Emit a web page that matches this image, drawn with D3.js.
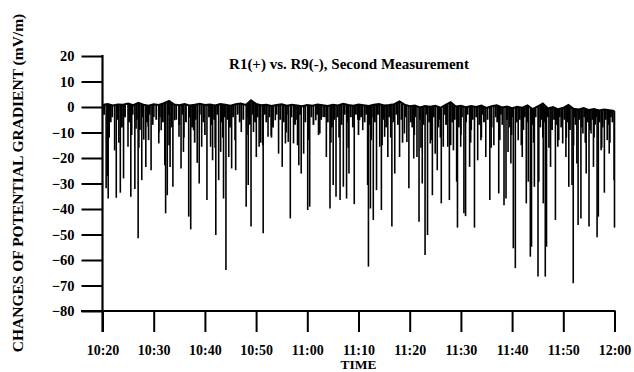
<!DOCTYPE html>
<html>
<head>
<meta charset="utf-8">
<script src="https://cdn.jsdelivr.net/npm/d3@7"></script>
<style>
html,body{margin:0;padding:0;background:#fff;}
svg{display:block;}
text{font-family:"Liberation Serif","Times New Roman",serif;font-weight:bold;fill:#000;}
</style>
</head>
<body>
<svg id="chart" width="634" height="372"></svg>
<script>
// ---- data (minutes after 10:20, value in mV/m) ----
const title = "R1(+) vs. R9(-), Second Measurement";
const yLabel = "CHANGES OF POTENTIAL GRADIENT (mV/m)";
const xLabel = "TIME";
const xTickLabels = ["10:20","10:30","10:40","10:50","11:00","11:10","11:20","11:30","11:40","11:50","12:00"];
const yTicks = [20,10,0,-10,-20,-30,-40,-50,-60,-70,-80];

// background level, one value per minute
const baseValues = [0.8,1.2,0.6,1.0,0.9,1.4,0.7,1.6,0.9,0.5,1.1,0.8,1.5,2.4,1.0,0.7,1.2,0.6,0.9,1.3,
  0.8,1.0,0.6,1.2,0.9,0.5,1.1,1.4,0.8,2.6,1.2,0.7,0.9,0.4,0.8,1.1,0.5,0.9,0.6,0.3,
  0.8,0.5,1.0,0.7,0.4,0.9,0.6,1.3,0.8,0.5,1.0,0.7,0.4,0.9,1.2,0.6,0.8,1.1,2.2,0.9,
  0.3,0.6,-0.2,0.4,0.1,0.5,-0.3,0.8,1.9,0.2,0.5,-0.1,0.4,0.0,0.6,-0.4,0.3,0.7,-0.2,0.2,
  -0.5,0.1,-0.3,0.6,-0.8,0.2,1.4,-0.6,0.0,-0.9,-0.3,0.8,-0.7,-1.0,-0.4,-1.2,-0.8,-1.4,-1.0,-1.3,-1.6];

// large downward spikes [minute, value]
const spikes = [[0.71,-31.9],[0.95,-27.1],[1.11,-35.9],[2.37,-17],[2.69,-35.6],[3.48,-33.6],[4.11,-28],
  [4.98,-15.6],[5.53,-35.2],[6.32,-32.2],[6.56,-8.5],[6.96,-51.5],[7.67,-28.7],[8.06,-12.8],[8.46,-23.5],
  [8.93,-7.8],[9.49,-24.8],[10.04,-3.9],[10.99,-14.3],[11.46,-9.1],[12.17,-22.8],[12.33,-41.7],[12.65,-34.6],
  [13.2,-23.5],[13.75,-31.3],[14.07,-5.2],[14.94,-11.7],[15.34,-24.1],[15.81,-17.6],[16.84,-43],[17.23,-48],
  [17.79,-9.1],[18.5,-21.9],[18.89,-30],[19.37,-15.6],[20.4,-36.5],[21.11,-15.6],[21.5,-20.9],[22.13,-50.2],
  [22.69,-28.7],[23.08,-17.6],[23.64,-35.9],[24.11,-63.9],[24.66,-19.6],[25.22,-24.1],[26.01,-24.8],
  [27.11,-9.8],[28.06,-39.1],[28.46,-30.6],[29.01,-46.9],[29.49,-9.8],[30.04,-19.6],[30.59,-15.6],
  [31.3,-15],[31.38,-49.5],[32.33,-11.7],[32.96,-11.1],[33.75,-5.2],[34.39,-18.3],[35.1,-23.5],[35.73,-14.3],
  [36.28,-13.7],[36.68,-43.7],[37.31,-14.3],[38.34,-22.8],[38.81,-26.1],[39.29,-18.3],[40.08,-40.4],
  [40.47,-39.1],[41.66,-5.2],[42.45,-10.4],[43.08,-3.9],[43.72,-19.6],[44.43,-39.8],[45.06,-30.6],
  [45.61,-35.2],[46.4,-36.5],[47.04,-31.3],[47.67,-35.9],[48.14,-26.1],[49.17,-38.1],[50.2,-5.2],[50.83,-9.1],
  [51.78,-30.6],[51.94,-62.6],[52.33,-39.8],[52.89,-44.3],[53.52,-32.6],[54.15,-15.6],[54.47,-40.4],
  [55.1,-11.7],[55.73,-19.6],[56.52,-46.9],[57.08,-26.1],[58.02,-19.6],[58.97,-10.4],[59.45,-13.7],
  [59.84,-31.9],[60.79,-20.2],[61.42,-19.6],[61.82,-45],[62.45,-30],[63.0,-58],[63.48,-50.2],[64.03,-14.3],
  [64.43,-34.6],[64.98,-18.3],[65.38,-24.8],[66.17,-37.8],[66.56,-15.6],[67.43,-15.6],[67.75,-36.5],
  [68.54,-17],[69.17,-29.3],[69.33,-47.3],[69.96,-15.6],[70.59,-41.7],[70.91,-42.8],[71.7,-23.5],
  [72.65,-47.3],[73.28,-20.9],[73.91,-13],[74.86,-19.6],[75.65,-36.5],[76.44,-15],[77.39,-33.9],
  [78.42,-38.5],[78.81,-35.9],[79.21,-17.6],[79.76,-22.2],[80.24,-55.4],[80.63,-63.2],[81.19,-13],
  [81.98,-19.6],[82.77,-37.8],[83.16,-29.3],[83.56,-58.7],[83.79,-54.8],[84.35,-31.3],[85.06,-66.5],
  [85.22,-29.3],[86.09,-37.8],[86.48,-66.5],[86.72,-54.8],[87.51,-23.5],[88.46,-44.3],[88.93,-15.6],
  [89.88,-14.3],[90.51,-19.6],[91.07,-31.3],[91.7,-30.6],[91.94,-69.1],[92.65,-22.2],[92.89,-46.3],
  [93.44,-43.7],[93.83,-10.4],[94.47,-26.1],[95.02,-46.9],[95.42,-10.4],[95.89,-23.5],[96.6,-51.1],
  [96.84,-43],[97.39,-17],[98.02,-33.6],[98.58,-13],[98.97,-18.3],[99.92,-28.7],[100,-47.3]];

// small dips [minute, value]
const dips = [[0.3,-3],[1.6,-6],[1.9,-4],[3.0,-5],[3.8,-8],[4.4,-4],[5.2,-6],[5.9,-3],[6.7,-5],[7.3,-9],
  [7.9,-4],[8.7,-6],[9.2,-3],[9.8,-7],[10.5,-5],[11.2,-4],[11.8,-6],[12.9,-3],[13.5,-8],[14.4,-5],[15.0,-7],
  [15.6,-3],[16.3,-6],[17.0,-4],[17.5,-8],[18.2,-5],[19.0,-3],[19.7,-6],[20.8,-4],[21.3,-7],[21.8,-5],
  [22.4,-3],[23.3,-6],[23.9,-4],[24.4,-5],[24.9,-8],[25.5,-4],[26.4,-3],[26.8,-6],[27.5,-5],[28.3,-4],
  [28.8,-7],[29.3,-3],[29.8,-6],[30.3,-4],[30.8,-5],[31.7,-3],[32.0,-6],[32.6,-4],[33.3,-8],[34.0,-3],
  [34.7,-5],[35.4,-6],[36.0,-3],[36.9,-4],[37.6,-7],[38.0,-5],[38.6,-3],[39.6,-6],[40.8,-4],[41.2,-7],
  [41.9,-3],[42.7,-5],[43.4,-4],[44.0,-6],[44.8,-8],[45.3,-5],[45.9,-4],[46.7,-7],[47.3,-3],[47.9,-6],
  [48.5,-4],[48.9,-8],[49.5,-3],[49.9,-5],[50.5,-4],[51.2,-6],[51.5,-3],[52.1,-7],[52.6,-4],[53.2,-6],
  [53.8,-3],[54.8,-5],[55.4,-8],[56.0,-4],[56.8,-6],[57.4,-3],[57.7,-7],[58.4,-5],[59.2,-4],[60.2,-6],
  [60.5,-8],[61.1,-4],[62.0,-5],[62.7,-7],[63.3,-3],[63.8,-6],[64.7,-4],[65.6,-8],[65.9,-5],[66.9,-3],
  [67.1,-7],[67.9,-4],[68.3,-6],[68.8,-5],[69.6,-8],[70.2,-4],[71.0,-6],[71.3,-3],[72.0,-9],[72.3,-5],
  [73.0,-4],[73.6,-7],[74.2,-3],[74.5,-6],[75.2,-5],[76.0,-8],[76.8,-4],[77.1,-6],[77.8,-3],[78.1,-7],
  [79.0,-5],[79.5,-8],[80.0,-4],[80.9,-6],[81.5,-5],[82.2,-9],[82.5,-4],[83.0,-6],[84.0,-7],[84.6,-4],
  [85.5,-8],[85.8,-5],[86.3,-6],[87.0,-4],[87.8,-9],[88.2,-5],[88.7,-7],[89.3,-4],[89.6,-8],[90.2,-5],
  [90.8,-6],[91.3,-9],[92.2,-4],[92.4,-7],[93.1,-5],[93.6,-8],[94.1,-4],[94.8,-6],[95.2,-9],[95.7,-5],
  [96.2,-7],[96.4,-4],[97.1,-6],[97.7,-8],[98.3,-5],[98.8,-7],[99.3,-4],[99.6,-6]];

// medium dips [minute, value]
const midDips = [[1.3,-12],[3.2,-14],[5.7,-11],[7.1,-16],[9.0,-13],[11.0,-10],[13.0,-15],[15.9,-12],
  [18.0,-14],[20.0,-11],[22.0,-16],[23.5,-12],[25.9,-13],[28.2,-11],[30.9,-14],[33.0,-12],[35.9,-10],
  [38.1,-15],[40.2,-13],[42.2,-11],[44.6,-14],[46.2,-12],[48.0,-16],[50.0,-11],[52.5,-13],[54.6,-15],
  [56.3,-12],[58.6,-14],[60.9,-11],[62.2,-16],[64.2,-13],[66.0,-12],[68.0,-15],[70.0,-11],[71.9,-14],
  [74.0,-12],[75.9,-16],[77.6,-13],[79.9,-11],[81.8,-15],[84.2,-14],[86.0,-12],[87.2,-16],[89.1,-13],
  [90.6,-12],[92.0,-15],[94.3,-14],[96.0,-12],[97.5,-16],[99.1,-14]];

// ---- drawing ----
const svg = d3.select("#chart");
const x = d3.scaleLinear().domain([0, 100]).range([102.5, 614.5]);
const y = d3.scaleLinear().domain([-80, 20]).range([311, 56]);
const baseTimes = baseValues.map((v, i) => i);
const baseAt = d3.scaleLinear().domain(baseTimes).range(baseValues);

// axes
const yAxis = d3.axisLeft(y).tickValues(yTicks).tickSize(21).tickPadding(7).tickFormat(d3.format("d"));
const gy = svg.append("g").attr("transform", `translate(${x(0)},0)`).call(yAxis);
gy.select(".domain").remove();
gy.append("line").attr("x1", 0).attr("x2", 0).attr("y1", y(20) - 1).attr("y2", 332)
  .attr("stroke", "#000").attr("stroke-width", 2.2);
gy.selectAll(".tick line").attr("stroke", "#000").attr("stroke-width", 2);
gy.selectAll(".tick text").style("font-size", "14.5px").attr("font-family", "Liberation Serif").attr("font-weight", "bold");

const xAxis = d3.axisBottom(x).tickValues(d3.range(0, 101, 10)).tickSize(21).tickPadding(13)
  .tickFormat((d, i) => xTickLabels[i]);
const gx = svg.append("g").attr("transform", `translate(0,${y(-80)})`).call(xAxis);
gx.select(".domain").remove();
gx.append("line").attr("x1", 81).attr("x2", x(100) + 1).attr("y1", 0).attr("y2", 0)
  .attr("stroke", "#000").attr("stroke-width", 2);
gx.selectAll(".tick line").attr("stroke", "#000").attr("stroke-width", 2);
gx.selectAll(".tick text").style("font-size", "14px").attr("font-family", "Liberation Serif").attr("font-weight", "bold");

// data marks
const g = svg.append("g");
const drawDrops = (cls, data, w) => g.selectAll("line." + cls).data(data).join("line").attr("class", cls)
  .attr("x1", d => x(d[0])).attr("x2", d => x(d[0]))
  .attr("y1", d => y(baseAt(d[0]))).attr("y2", d => y(d[1]))
  .attr("stroke", "#000").attr("stroke-width", w);
drawDrops("dip", dips, 1.9);
drawDrops("mid", midDips, 1.7);
drawDrops("spike", spikes, 1.6);
g.append("path").datum(baseValues)
  .attr("d", d3.line().x((d, i) => x(baseTimes[i])).y(d => y(d)))
  .attr("fill", "none").attr("stroke", "#000").attr("stroke-width", 2);

// texts
svg.append("text").attr("x", 349).attr("y", 69).attr("text-anchor", "middle")
  .style("font-size", "15px").text(title);
svg.append("text").attr("x", x(50)).attr("y", 369).attr("text-anchor", "middle")
  .style("font-size", "13.5px").text(xLabel);
svg.append("text").attr("transform", "translate(23,183) rotate(-90)").attr("text-anchor", "middle")
  .style("font-size", "15.5px").text(yLabel);
</script>
</body>
</html>
